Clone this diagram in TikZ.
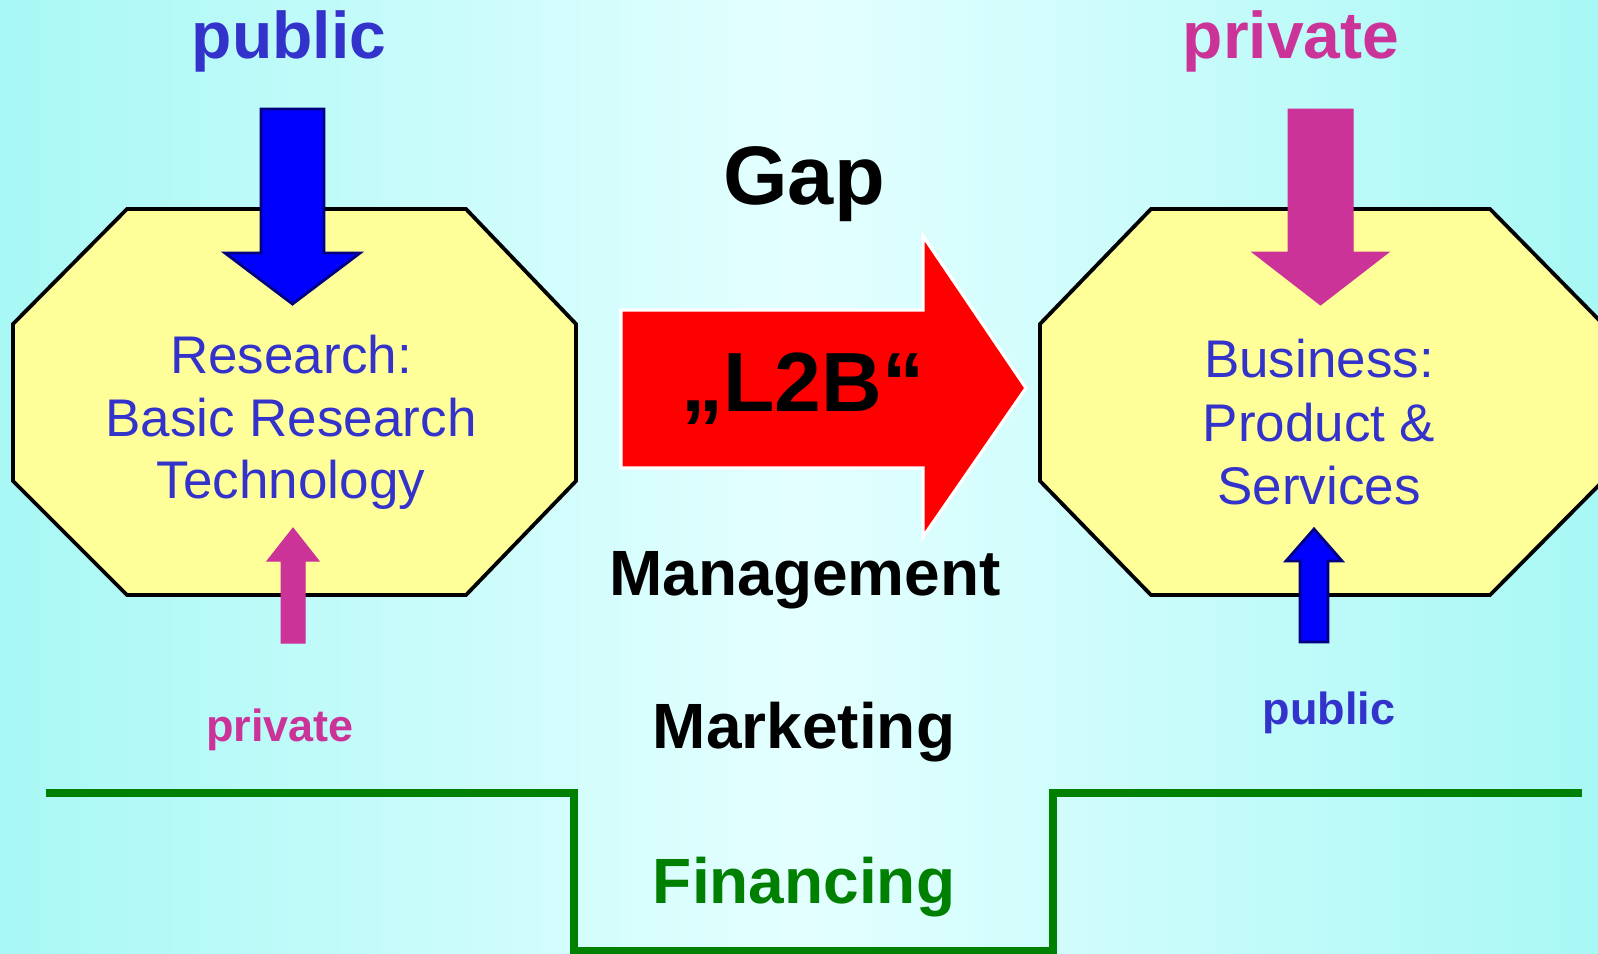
\documentclass[tikz,border=0pt]{standalone}
\usepackage{fontspec}
\setmainfont{Liberation Sans}
\definecolor{bgside}{RGB}{168,248,245}
\definecolor{bgmid}{RGB}{228,255,255}
\definecolor{octfill}{RGB}{255,255,153}
\definecolor{textblue}{RGB}{51,51,204}
\definecolor{rose}{RGB}{204,51,153}
\definecolor{navy}{RGB}{0,0,128}
\definecolor{fingreen}{RGB}{0,128,0}
\newcommand{\pxfont}[1]{\fontsize{#1pt}{#1pt}\selectfont}
\tikzset{
  octagon/.style={fill=octfill, draw=black, line width=1.9pt, line join=miter},
  bluearrow/.style={fill=blue, draw=navy, line width=1.4pt, line join=miter},
  rosearrow/.style={fill=rose, draw=rose, line width=0.5pt, line join=miter},
  redarrow/.style={fill=red, draw=white, line width=1.6pt, line join=miter},
  finline/.style={draw=fingreen, line width=3.6pt, line join=miter},
  lbl/.style={anchor=base, inner sep=0pt, outer sep=0pt},
  bigword/.style={lbl, font=\bfseries\pxfont{33}},
  midword/.style={lbl, font=\bfseries\pxfont{32}},
  boxword/.style={lbl, font=\pxfont{26.5}, text=textblue},
  smallword/.style={lbl, font=\bfseries\pxfont{22.5}},
}
\begin{document}
\begin{tikzpicture}[x=0.5pt,y=-0.5pt]
\useasboundingbox (0,0) rectangle (1598,953);
\clip (0,0) rectangle (1598,953);
% background
\shade[left color=bgside, right color=bgside, middle color=bgmid] (0,0) rectangle (1598,953);

% the two octagons
\draw[octagon] (127,209) -- (466,209) -- (576,324) -- (576,481) -- (466,595)
  -- (127,595) -- (13,481) -- (13,324) -- cycle;
\draw[octagon] (1151,209) -- (1490,209) -- (1603,324) -- (1603,481) -- (1490,595)
  -- (1151,595) -- (1040,481) -- (1040,324) -- cycle;

% financing trough
\draw[finline] (46,793) -- (574,793) -- (574,951) -- (1053,951) -- (1053,793) -- (1582,793);

% block arrows
\filldraw[bluearrow] (261,109) -- (324,109) -- (324,253) -- (360,253) -- (292.5,304)
  -- (225,253) -- (261,253) -- cycle;
\filldraw[rosearrow] (1288,109) -- (1353,109) -- (1353,252) -- (1389,252) -- (1320.5,305)
  -- (1252,252) -- (1288,252) -- cycle;
\filldraw[rosearrow] (281,643) -- (305,643) -- (305,561) -- (319,561) -- (293,528)
  -- (267,561) -- (281,561) -- cycle;
\filldraw[bluearrow] (1300,642) -- (1328,642) -- (1328,561) -- (1342,561) -- (1314,529)
  -- (1286,561) -- (1300,561) -- cycle;
\filldraw[redarrow] (621,310) -- (923,310) -- (923,236) -- (1026,388) -- (923,537)
  -- (923,468) -- (621,468) -- cycle;

% headings
\node[bigword, text=textblue] (pubtop) at (289,58) {public};
\node[bigword, text=rose] (privtop) at (1291,58) {private};
\node[lbl, font=\bfseries\pxfont{41.5}] (gap) at (804,204) {Gap};
\node[lbl, font=\bfseries\pxfont{42}] (l2b) at (803,411) {„L2B“};

% octagon texts
\node[boxword] (res1) at (291,373) {Research:};
\node[boxword] (res2) at (291,436) {Basic Research};
\node[boxword] (res3) at (291,498) {Technology};
\node[boxword] (bus1) at (1319,377) {Business:};
\node[boxword] (bus2) at (1319,441) {Product \&};
\node[boxword] (bus3) at (1319,504) {Services};

% lower labels
\node[smallword, text=rose] (privbot) at (280,741) {private};
\node[smallword, text=textblue] (pubbot) at (1329,724) {public};
\node[midword] (mgmt) at (805,595) {Management};
\node[midword] (mkt) at (804,748) {Marketing};
\node[midword, text=fingreen] (fin) at (804,903) {Financing};
\end{tikzpicture}
\end{document}
